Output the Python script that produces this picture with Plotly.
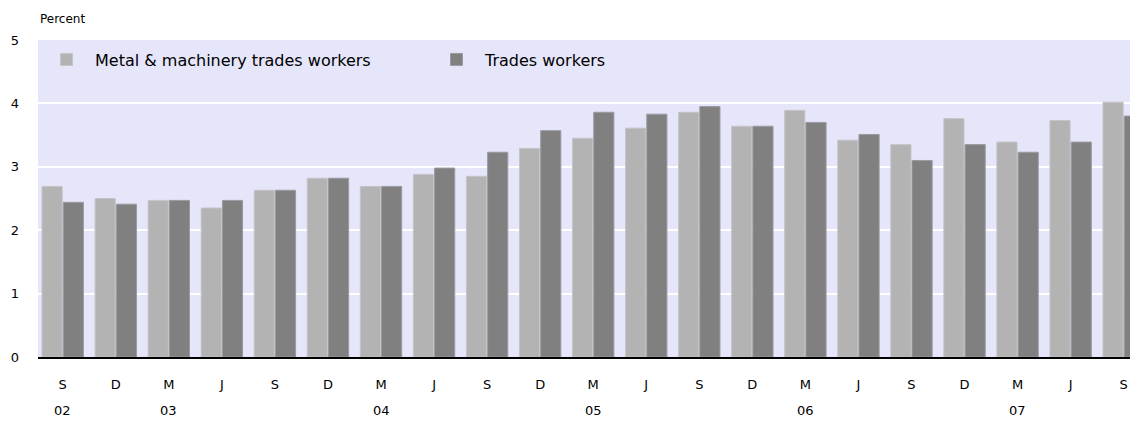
import plotly.graph_objects as go

months = ["S", "D", "M", "J", "S", "D", "M", "J", "S", "D", "M", "J", "S", "D", "M", "J", "S", "D", "M", "J", "S"]
year_labels = ["02", "03", "04", "05", "06", "07"]
year_positions = [0, 2, 6, 10, 14, 18]
metal = [2.69, 2.50, 2.47, 2.35, 2.63, 2.82, 2.69, 2.88, 2.85, 3.29, 3.45,
         3.61, 3.86, 3.64, 3.89, 3.42, 3.35, 3.76, 3.39, 3.73, 4.02]
trades = [2.44, 2.41, 2.47, 2.47, 2.63, 2.82, 2.69, 2.98, 3.23, 3.57, 3.86,
          3.83, 3.95, 3.64, 3.70, 3.51, 3.10, 3.35, 3.23, 3.39, 3.80]

x = list(range(len(months)))
FONT = "DejaVu Sans"

fig = go.Figure()
fig.add_trace(go.Bar(x=x, y=metal, name="Metal & machinery trades workers",
                     marker=dict(color="#B3B3B3", line=dict(color="#C4C4C8", width=1))))
fig.add_trace(go.Bar(x=x, y=trades, name="Trades workers",
                     marker=dict(color="#808080", line=dict(color="#9A9AA2", width=1))))

for yl, yp in zip(year_labels, year_positions):
    fig.add_annotation(x=yp, y=0, yref="paper", xref="x", text=yl, showarrow=False,
                       yshift=-63, font=dict(family=FONT, size=13, color="#000000"))

fig.add_annotation(x=0, xref="paper", xanchor="left", y=1, yref="paper", yanchor="bottom",
                   text="Percent", showarrow=False, yshift=12, xshift=0,
                   font=dict(family=FONT, size=12, color="#000000"))

fig.update_layout(
    width=1130, height=416,
    margin=dict(l=30, r=0, t=32, b=67),
    paper_bgcolor="white",
    plot_bgcolor="#E6E6FA",
    barmode="group",
    bargap=0.2,
    bargroupgap=0.05,
    font=dict(family=FONT, size=13, color="#000000"),
    showlegend=True,
    legend=dict(orientation="h", x=0.0, xanchor="left", y=0.992, yanchor="top",
                bgcolor="rgba(0,0,0,0)", font=dict(family=FONT, size=16, color="#000000"),
                itemwidth=47, entrywidth=328, entrywidthmode="pixels", traceorder="normal"),
    xaxis=dict(range=[-0.466, 20.27], tickmode="array", tickvals=x, ticktext=months,
               showgrid=False, showline=True, linecolor="#000000", linewidth=2,
               ticks="", ticklabelstandoff=14, tickfont=dict(family=FONT, size=13),
               zeroline=False),
    yaxis=dict(range=[0, 5], tickvals=[0, 1, 2, 3, 4, 5], showgrid=True, gridcolor="white",
               gridwidth=2, zeroline=False, showline=False, ticks="",
               ticklabelstandoff=18, tickfont=dict(family=FONT, size=13)),
)

fig.write_html("out.html")
